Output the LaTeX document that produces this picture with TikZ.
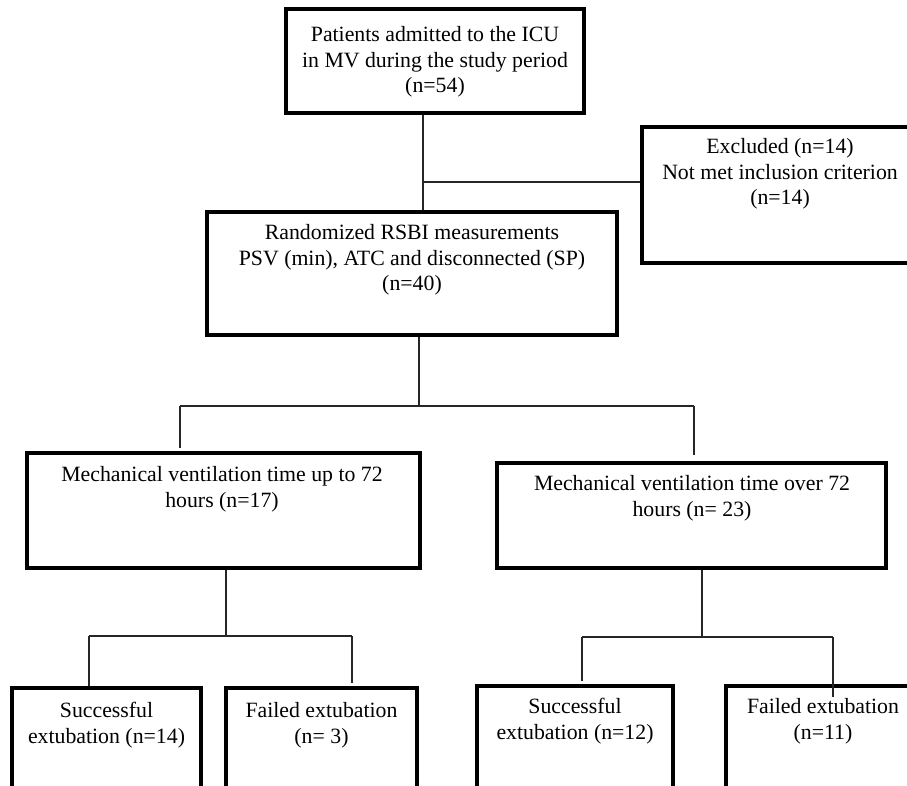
\documentclass[tikz,border=0pt]{standalone}
\usepackage{fontspec}
\setmainfont{Liberation Serif}
\begin{document}
\begin{tikzpicture}[x=1pt,y=-1pt,
  box/.style={draw=black, line width=3.2pt, rectangle, inner sep=0pt, fill=none},
  txt/.style={anchor=north, align=center, inner sep=0pt, font=\fontsize{21.8}{25.5}\selectfont},
  conn/.style={draw=black!85, line width=1.3pt}]
\useasboundingbox (0,0) rectangle (907,786);
\fill[white] (0,0) rectangle (907,786);
\clip (0,0) rectangle (907,786);

% boxes
\node[box, minimum width=298pt, minimum height=104pt] (b1) at (435,61) {};
\node[box, minimum width=278pt, minimum height=136pt] (ex) at (781,195) {};
\node[box, minimum width=410pt, minimum height=123pt] (b2) at (412,273.5) {};
\node[box, minimum width=393pt, minimum height=115pt] (b3) at (223.5,510.5) {};
\node[box, minimum width=389pt, minimum height=105pt] (b4) at (691.5,515.5) {};
\node[box, minimum width=189pt, minimum height=122pt] (b5) at (106.5,749) {};
\node[box, minimum width=191pt, minimum height=122pt] (b6) at (321.5,749) {};
\node[box, minimum width=196pt, minimum height=124pt] (b7) at (575,748) {};
\node[box, minimum width=194pt, minimum height=124pt] (b8) at (823,748) {};

% texts
\node[txt] (t1) at (435,23.5) {\strut Patients admitted to the ICU\\in MV during the study period\\(n=54)};
\node[txt] (tex) at (780,135.5) {\strut Excluded (n=14)\\Not met inclusion criterion\\(n=14)};
\node[txt] (t2) at (412,221.5) {\strut Randomized RSBI measurements\\PSV (min), ATC and disconnected (SP)\\(n=40)};
\node[txt] (t3) at (222,463.5) {\strut Mechanical ventilation time up to 72\\hours (n=17)};
\node[txt] (t4) at (692,472.5) {\strut Mechanical ventilation time over 72\\hours (n= 23)};
\node[txt] (t5) at (106.5,699.5) {\strut Successful\\extubation (n=14)};
\node[txt] (t6) at (321.5,699.5) {\strut Failed extubation\\(n= 3)};
\node[txt] (t7) at (575,695.5) {\strut Successful\\extubation (n=12)};
\node[txt] (t8) at (823,695.5) {\strut Failed extubation\\(n=11)};

% junction coordinates
\coordinate (j1) at (423,182);
\coordinate (j2) at (419,406);
\coordinate (j2l) at (180,406);
\coordinate (j2r) at (694,406);
\coordinate (j3) at (226,636);
\coordinate (j3l) at (89,636);
\coordinate (j3r) at (352,636);
\coordinate (j4) at (702,637);
\coordinate (j4l) at (582,637);
\coordinate (j4r) at (833,637);
\coordinate (j4e) at (833,697);

% connectors
\draw[conn] (j1 |- b1.south) -- (j1 |- b2.north);
\draw[conn] (j1) -- (j1 -| ex.west);

\draw[conn] (j2 |- b2.south) -- (j2);
\draw[conn] (j2l) -- (j2r);
\draw[conn, shorten >=3pt] (j2l) -- (j2l |- b3.north);
\draw[conn, shorten >=6pt] (j2r) -- (j2r |- b4.north);

\draw[conn] (j3 |- b3.south) -- (j3);
\draw[conn] (j3l) -- (j3r);
\draw[conn] (j3l) -- (j3l |- b5.north);
\draw[conn, shorten >=3pt] (j3r) -- (j3r |- b6.north);

\draw[conn] (j4 |- b4.south) -- (j4);
\draw[conn] (j4l) -- (j4r);
\draw[conn, shorten >=3pt] (j4l) -- (j4l |- b7.north);
\draw[conn] (j4r) -- (j4e);
\end{tikzpicture}
\end{document}
